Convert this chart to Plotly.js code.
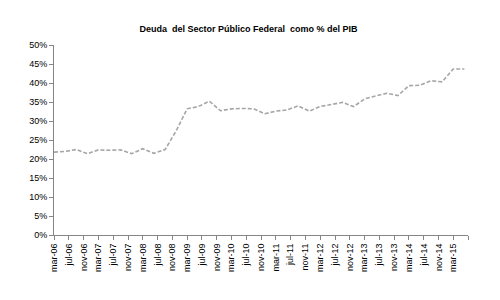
<!DOCTYPE html>
<html>
<head>
<meta charset="utf-8">
<script src="https://cdn.plot.ly/plotly-3.0.1.min.js"></script>
<style>html,body{margin:0;padding:0;background:#fff;}#chart{width:500px;height:300px;}</style>
</head>
<body>
<div id="chart"></div>
<script>
// Quarterly observations (mar, jun, sep, dec), 2006-03 .. 2015-06
const dates = [
  "2006-03-01","2006-06-01","2006-09-01","2006-12-01",
  "2007-03-01","2007-06-01","2007-09-01","2007-12-01",
  "2008-03-01","2008-06-01","2008-09-01","2008-12-01",
  "2009-03-01","2009-06-01","2009-09-01","2009-12-01",
  "2010-03-01","2010-06-01","2010-09-01","2010-12-01",
  "2011-03-01","2011-06-01","2011-09-01","2011-12-01",
  "2012-03-01","2012-06-01","2012-09-01","2012-12-01",
  "2013-03-01","2013-06-01","2013-09-01","2013-12-01",
  "2014-03-01","2014-06-01","2014-09-01","2014-12-01",
  "2015-03-01","2015-06-01"
];
const deudaPIB = [
  21.8, 22.0, 22.5, 21.4,
  22.4, 22.3, 22.4, 21.4,
  22.7, 21.5, 22.5, 27.4,
  33.2, 33.8, 35.2, 32.7,
  33.2, 33.3, 33.2, 31.9,
  32.6, 32.9, 34.0, 32.6,
  33.8, 34.4, 34.9, 33.8,
  35.8, 36.6, 37.3, 36.7,
  39.3, 39.4, 40.6, 40.3,
  43.7, 43.7
];
const tickDates = [
  "2006-03-01","2006-07-01","2006-11-01","2007-03-01","2007-07-01","2007-11-01",
  "2008-03-01","2008-07-01","2008-11-01","2009-03-01","2009-07-01","2009-11-01",
  "2010-03-01","2010-07-01","2010-11-01","2011-03-01","2011-07-01","2011-11-01",
  "2012-03-01","2012-07-01","2012-11-01","2013-03-01","2013-07-01","2013-11-01",
  "2014-03-01","2014-07-01","2014-11-01","2015-03-01","2015-07-01"
];
const tickLabels = [
  "mar-06","jul-06","nov-06","mar-07","jul-07","nov-07",
  "mar-08","jul-08","nov-08","mar-09","jul-09","nov-09",
  "mar-10","jul-10","nov-10","mar-11","jul-11","nov-11",
  "mar-12","jul-12","nov-12","mar-13","jul-13","nov-13",
  "mar-14","jul-14","nov-14","mar-15",""
];
const titleText = "Deuda  del Sector Público Federal  como % del PIB";

const trace = {
  x: dates, y: deudaPIB, type: "scatter", mode: "lines",
  line: {color: "#a6a6a6", width: 1.6, dash: "4px,2px"},
  hoverinfo: "skip"
};
const axisFont = {family: "Liberation Sans, Arial, sans-serif", size: 9, color: "#000"};
const layout = {
  width: 500, height: 300,
  margin: {l: 54, r: 32, t: 45, b: 65},
  paper_bgcolor: "#fff", plot_bgcolor: "#fff",
  showlegend: false,
  title: {text: "<b>" + titleText + "</b>", x: 0.497, xanchor: "center", y: 0.903, yanchor: "middle",
          font: {family: "Liberation Sans, Arial, sans-serif", size: 9, color: "#000"}},
  xaxis: {
    type: "date", range: ["2006-03-01", "2015-07-01"],
    tickmode: "array", tickvals: tickDates, ticktext: tickLabels,
    tickangle: -90, tickfont: axisFont,
    ticks: "outside", ticklen: 4, tickcolor: "#868686", tickwidth: 1,
    showline: true, linecolor: "#868686", linewidth: 1,
    showgrid: false, zeroline: false
  },
  yaxis: {
    range: [0, 50], dtick: 5, tick0: 0, ticksuffix: "%",
    tickfont: axisFont,
    ticks: "outside", ticklen: 4, tickcolor: "#868686", tickwidth: 1,
    showline: true, linecolor: "#868686", linewidth: 1,
    showgrid: false, zeroline: false
  }
};
Plotly.newPlot("chart", [trace], layout, {staticPlot: true, displayModeBar: false});
</script>
</body>
</html>
